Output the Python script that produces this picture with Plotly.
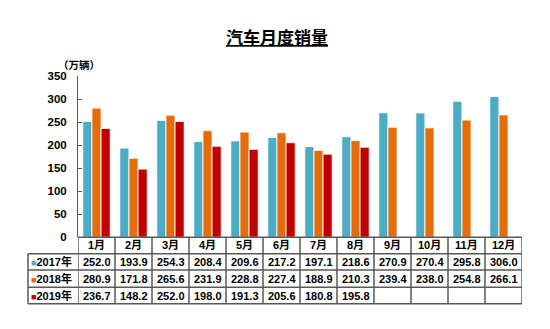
import plotly.graph_objects as go

months = ["1月", "2月", "3月", "4月", "5月", "6月", "7月", "8月", "9月", "10月", "11月", "12月"]
series_names = ["2017年", "2018年", "2019年"]
s2017 = [252.0, 193.9, 254.3, 208.4, 209.6, 217.2, 197.1, 218.6, 270.9, 270.4, 295.8, 306.0]
s2018 = [280.9, 171.8, 265.6, 231.9, 228.8, 227.4, 188.9, 210.3, 239.4, 238.0, 254.8, 266.1]
s2019 = [236.7, 148.2, 252.0, 198.0, 191.3, 205.6, 180.8, 195.8, None, None, None, None]
colors = ["#4BACC6", "#E46C0A", "#C00000"]
y_ticks = [0, 50, 100, 150, 200, 250, 300, 350]

W, H = 550, 329
def py(p):  # pixel y -> paper y
    return (H - p) / H

FONT = "Arial, 'Liberation Sans', 'Noto Sans CJK SC', sans-serif"

fig = go.Figure()
all_series = [s2017, s2018, s2019]
for name, vals, c in zip(series_names, all_series, colors):
    fig.add_trace(go.Bar(x=months, y=vals, name=name, marker=dict(color=c, line=dict(color="rgba(255,255,255,0.85)", width=1))))

fig.update_layout(
    width=W, height=H, margin=dict(l=0, r=0, t=0, b=0),
    paper_bgcolor="white", plot_bgcolor="white",
    showlegend=False, barmode="group", bargap=0.26, bargroupgap=0.0,
    font=dict(family=FONT, color="black"),
    xaxis=dict(domain=[78 / W, 522 / W], showticklabels=False, showline=False,
               showgrid=False, zeroline=False, ticks="", range=[-0.5, 11.5]),
    yaxis=dict(domain=[py(240), py(73)], range=[0, 350], tickvals=y_ticks,
               showgrid=False, zeroline=False, showline=True, linecolor="#595959", linewidth=1,
               ticks="inside", ticklen=4, tickcolor="#595959",
               tickfont=dict(size=11.5, family=FONT, color="black", weight="bold"),
               ticklabelstandoff=8),
)

# title
fig.add_annotation(text="<b><u>汽车月度销量</u></b>", xref="paper", yref="paper",
                   x=277 / W, y=py(33), xanchor="center", yanchor="middle", showarrow=False,
                   font=dict(size=17, color="black", family=FONT))
# unit
fig.add_annotation(text="<b>（万辆）</b>", xref="paper", yref="paper",
                   x=79 / W, y=py(61), xanchor="center", yanchor="middle", showarrow=False,
                   font=dict(size=10.5, color="black", family=FONT))

# table geometry
row_lines = [240, 257, 274, 292, 309]
line_col = "#595959"
x_left_px = 28
for i, r in enumerate(row_lines):
    if i == 0:
        fig.add_shape(type="line", xref="x", yref="paper", x0=-0.5, x1=len(months) - 0.5,
                      y0=py(r), y1=py(r), line=dict(color=line_col, width=1.5))
    else:
        fig.add_shape(type="line", xref="paper", yref="paper", x0=x_left_px / W, x1=522 / W,
                      y0=py(r), y1=py(r), line=dict(color=line_col, width=1.5))
for k in range(len(months) + 1):
    fig.add_shape(type="line", xref="x", yref="paper", x0=k - 0.5, x1=k - 0.5,
                  y0=py(row_lines[0]), y1=py(row_lines[-1]), line=dict(color=line_col, width=1.5))
fig.add_shape(type="line", xref="paper", yref="paper", x0=x_left_px / W, x1=x_left_px / W,
              y0=py(row_lines[1]), y1=py(row_lines[-1]), line=dict(color=line_col, width=1.5))

tfont = dict(size=11, color="black", family=FONT)
for m in months:
    fig.add_annotation(text="<b>%s</b>" % m, xref="x", yref="paper", x=m,
                       y=py((row_lines[0] + row_lines[1]) / 2), xanchor="center", yanchor="middle",
                       showarrow=False, font=tfont)
for ri, (name, vals, c) in enumerate(zip(series_names, all_series, colors)):
    yc = py((row_lines[ri + 1] + row_lines[ri + 2]) / 2)
    fig.add_annotation(text="<span style='color:%s;font-size:9px'>■</span><b>%s</b>" % (c, name),
                       xref="paper", yref="paper", x=(x_left_px + 1) / W, xanchor="left",
                       y=yc, yanchor="middle", showarrow=False, font=tfont)
    for m, v in zip(months, vals):
        if v is None:
            continue
        fig.add_annotation(text="<b>%.1f</b>" % v, xref="x", yref="paper", x=m, y=yc,
                           xanchor="center", yanchor="middle", showarrow=False, font=tfont)

fig.write_html("out.html")
